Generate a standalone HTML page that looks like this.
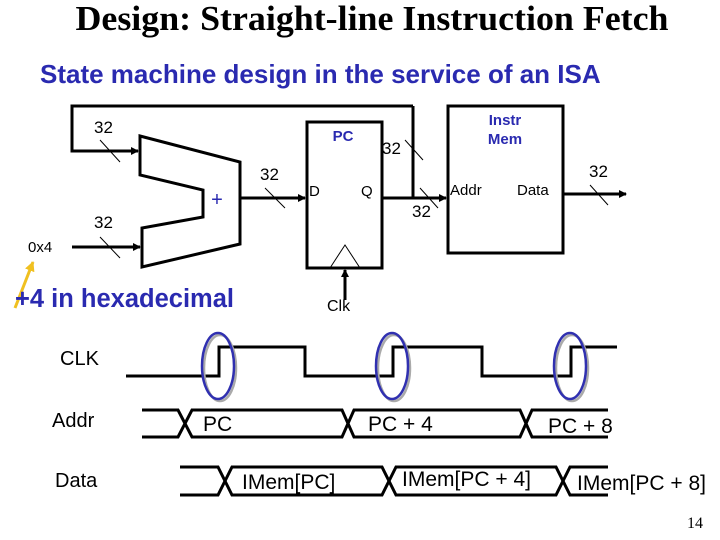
<!DOCTYPE html>
<html><head><meta charset="utf-8"><style>
html,body{margin:0;padding:0;background:#fff;}
svg{display:block;}
</style></head><body>
<svg width="720" height="540" viewBox="0 0 720 540" xmlns="http://www.w3.org/2000/svg">
<defs>
<marker id="ar" markerWidth="8" markerHeight="8" refX="7" refY="4" orient="auto" markerUnits="userSpaceOnUse">
<path d="M0,0 L8,4 L0,8 z" fill="#000"/></marker>
<marker id="ay" markerWidth="10" markerHeight="10" refX="9" refY="5" orient="auto" markerUnits="userSpaceOnUse">
<path d="M0,0 L10,5 L0,10 z" fill="#f0c020"/></marker>
</defs>
<text x="372" y="30" font-family="Liberation Serif, serif" font-size="35" font-weight="bold" text-anchor="middle" textLength="593" lengthAdjust="spacingAndGlyphs">Design: Straight-line Instruction Fetch</text>
<text x="40" y="83" font-family="Liberation Sans, sans-serif" font-size="26" font-weight="bold" fill="#2a2ab0">State machine design in the service of an ISA</text>

<g stroke="#000" stroke-width="3" fill="none">
<polyline points="413,106 72,106 72,151 138,151" marker-end="url(#ar)"/>
<polygon points="140,136 240,162 240,244 142,267 142,228 203,217 203,190 140,175"/>
<line x1="72" y1="247" x2="140" y2="247" marker-end="url(#ar)"/>
<line x1="240" y1="198" x2="305" y2="198" marker-end="url(#ar)"/>
<rect x="307" y="122" width="75" height="146"/>
<line x1="345" y1="300" x2="345" y2="270" marker-end="url(#ar)"/>
<line x1="382" y1="198" x2="446" y2="198" marker-end="url(#ar)"/>
<line x1="413" y1="198" x2="413" y2="106"/>
<rect x="448" y="106" width="115" height="147"/>
<line x1="563" y1="194" x2="626" y2="194" marker-end="url(#ar)"/>
</g>
<g stroke="#000" stroke-width="1" fill="none">
<line x1="100" y1="140" x2="120" y2="162"/>
<line x1="100" y1="237" x2="120" y2="258"/>
<line x1="265" y1="188" x2="285" y2="208"/>
<line x1="405" y1="140" x2="423" y2="160"/>
<line x1="420" y1="188" x2="438" y2="208"/>
<line x1="590" y1="185" x2="608" y2="205"/>
<polyline points="330,268 345,245 360,268"/>
</g>
<g font-family="Liberation Sans, sans-serif" font-size="17" fill="#000">
<text x="94" y="133">32</text>
<text x="94" y="228">32</text>
<text x="260" y="180">32</text>
<text x="382" y="154">32</text>
<text x="412" y="217">32</text>
<text x="589" y="177">32</text>
<text x="28" y="252" font-size="15">0x4</text>
<text x="309" y="196" font-size="15">D</text>
<text x="361" y="196" font-size="15">Q</text>
<text x="450" y="195" font-size="15">Addr</text>
<text x="517" y="195" font-size="15">Data</text>
<text x="327" y="311" font-size="16">Clk</text>
</g>
<g font-family="Liberation Sans, sans-serif" font-size="15" font-weight="bold" fill="#2a2ab0" text-anchor="middle">
<text x="343" y="141">PC</text>
<text x="505" y="125">Instr</text>
<text x="505" y="144">Mem</text>
<text x="217" y="206" font-size="20" font-weight="normal">+</text>
</g>
<line x1="15" y1="308" x2="33" y2="262" stroke="#f0c020" stroke-width="3" marker-end="url(#ay)"/>
<text x="15" y="307" font-family="Liberation Sans, sans-serif" font-size="25.5" font-weight="bold" fill="#2a2ab0">+4 in hexadecimal</text>

<g font-family="Liberation Sans, sans-serif" font-size="20" fill="#000">
<text x="60" y="365">CLK</text>
<text x="52" y="427">Addr</text>
<text x="55" y="487">Data</text>
</g>
<polyline points="126,376 219,376 219,347 305,347 305,376 393,376 393,347 482,347 482,376 571,376 571,347 617,347" stroke="#000" stroke-width="3" fill="none"/>
<g fill="none" stroke-width="2.5">
<ellipse cx="220" cy="368" rx="16" ry="33" stroke="#aaa"/>
<ellipse cx="218" cy="366" rx="16" ry="33" stroke="#3030b0"/>
<ellipse cx="394" cy="368" rx="16" ry="33" stroke="#aaa"/>
<ellipse cx="392" cy="366" rx="16" ry="33" stroke="#3030b0"/>
<ellipse cx="572" cy="368" rx="16" ry="33" stroke="#aaa"/>
<ellipse cx="570" cy="366" rx="16" ry="33" stroke="#3030b0"/>
</g>
<g stroke="#000" stroke-width="3" fill="none">
<polyline points="142,410 178,410 192,437 342,437 354,410 520,410 532,437 608,437"/>
<polyline points="142,437 178,437 192,410 342,410 354,437 520,437 532,410 608,410"/>
<polyline points="180,467 218,467 232,495 382,495 396,467 556,467 570,495 608,495"/>
<polyline points="180,495 218,495 232,467 382,467 396,495 556,495 570,467 608,467"/>
</g>
<g font-family="Liberation Sans, sans-serif" font-size="21" fill="#000">
<text x="203" y="431">PC</text>
<text x="368" y="431">PC + 4</text>
<text x="548" y="433">PC + 8</text>
<text x="242" y="489">IMem[PC]</text>
<text x="402" y="486">IMem[PC + 4]</text>
<text x="577" y="490">IMem[PC + 8]</text>
</g>
<text x="695" y="528" font-family="Liberation Serif, serif" font-size="16" text-anchor="middle">14</text>
</svg>
</body></html>
